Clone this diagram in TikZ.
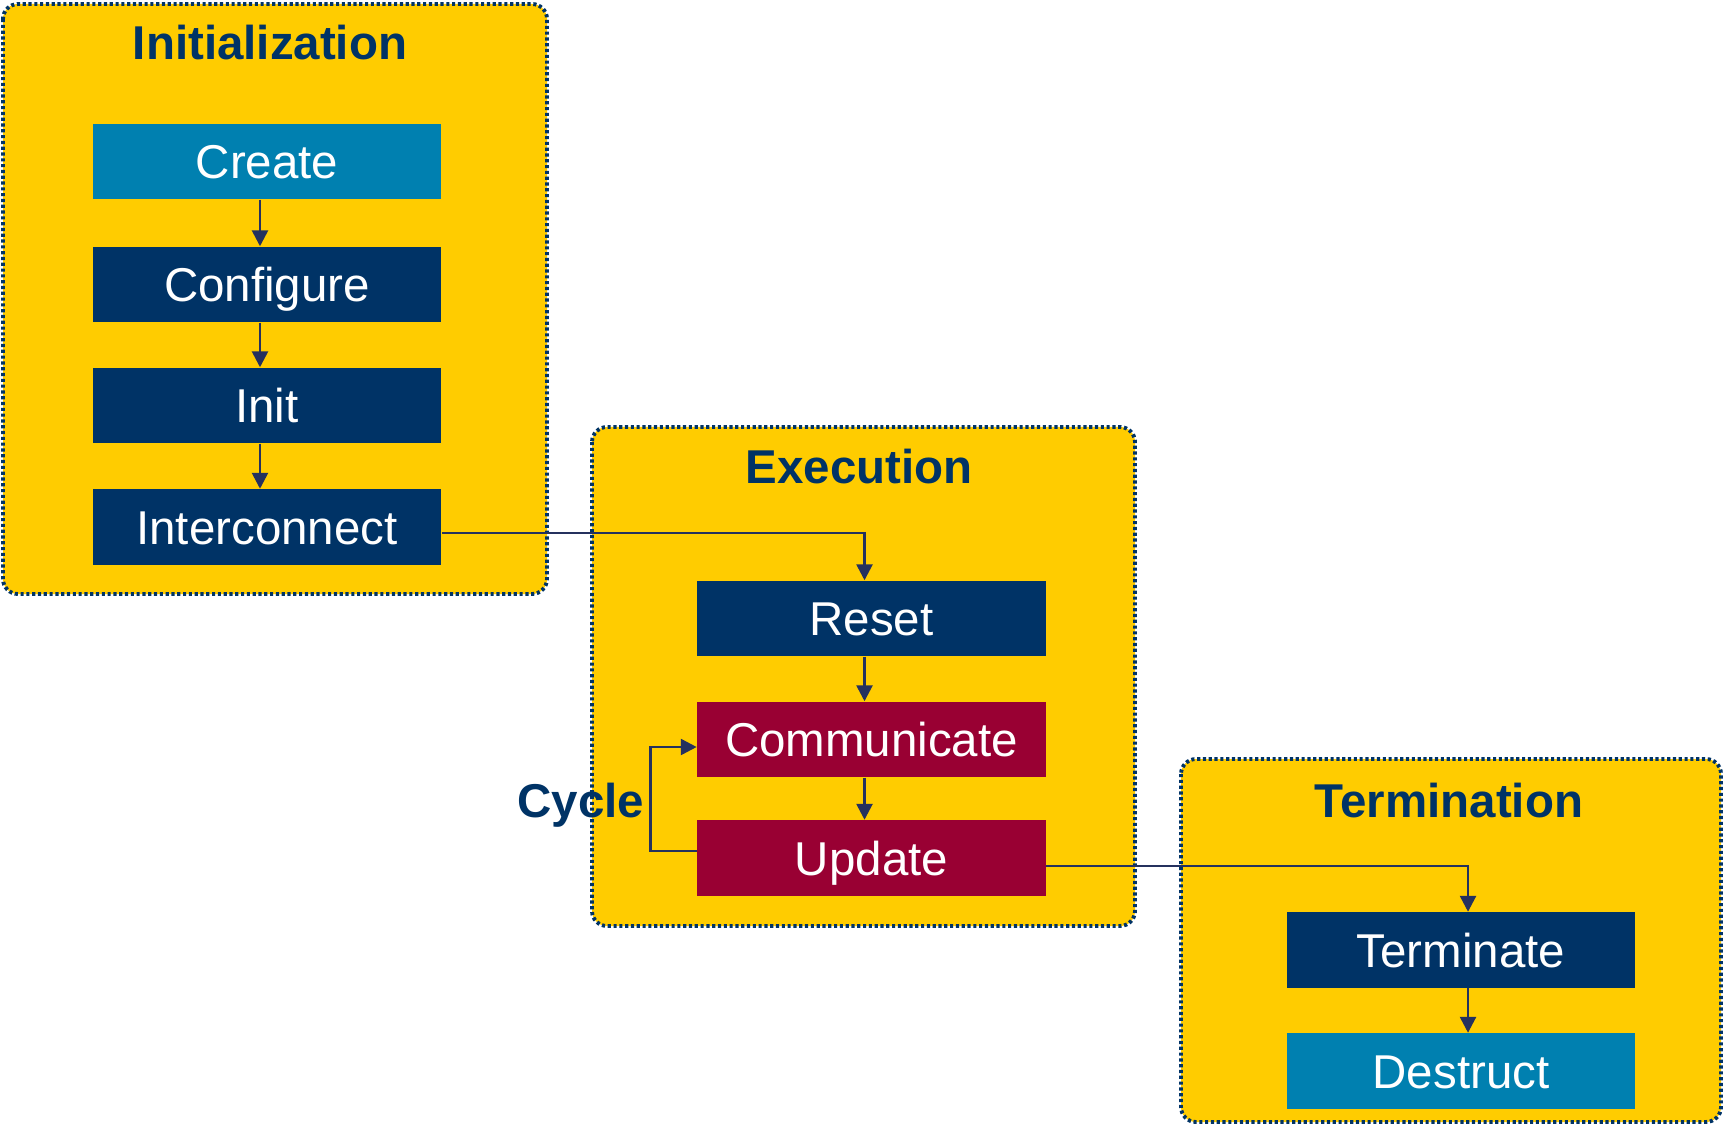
\documentclass[tikz,border=0pt]{standalone}
\usepackage{fontspec}
\setmainfont{Liberation Sans}
\usetikzlibrary{arrows.meta}
\definecolor{phaseyellow}{HTML}{FFCC00}
\definecolor{navy}{HTML}{003366}
\definecolor{teal}{HTML}{0080B0}
\definecolor{crimson}{HTML}{990033}
\definecolor{linenavy}{HTML}{25315E}
\begin{document}
\begin{tikzpicture}[x=0.01cm,y=-0.01cm,>={Triangle[length=4.5pt,width=4.5pt]},font=\fontsize{13.5}{16}\selectfont,
    phase/.style={draw=navy,fill=phaseyellow,rounded corners=0.15cm,line width=1.1pt,dash pattern=on 0.9pt off 0.75pt},
    title/.style={text=navy,text height=0.34cm,text depth=0pt,font=\fontsize{13.5}{16}\selectfont\bfseries},
    stepbox/.style={minimum width=3.48cm,minimum height=0.75cm,inner sep=0pt,text height=0.34cm,text depth=0pt,text=white},
    navybox/.style={stepbox,fill=navy},
    tealbox/.style={stepbox,fill=teal},
    redbox/.style={stepbox,fill=crimson},
    flow/.style={->,draw=linenavy,line width=0.75pt}]
        \def\ax{0.07cm}
        \useasboundingbox (0,0) rectangle (1725,1125);

        \draw[phase] (3,4) rectangle (547,594);
        \draw[phase] (592,427) rectangle (1135,926);
        \draw[phase] (1181,759) rectangle (1721,1122);

        \node[title] (tinit) at (270,42) {Initialization};
        \node[title] (texec) at (859,466) {Execution};
        \node[title] (tterm) at (1449,800) {Termination};

        \node[tealbox] (create) at (267,161.5) {Create};
        \node[navybox] (configure) at (267,284.5) {Configure};
        \node[navybox] (init) at (267,405.5) {Init};
        \node[navybox] (interconnect) at (267,527) {Interconnect};

        \node[navybox] (reset) at (871.5,618.5) {Reset};
        \node[redbox] (communicate) at (871.5,739.5) {Communicate};
        \node[redbox] (update) at (871.5,858) {Update};

        \node[navybox] (terminate) at (1461,950) {Terminate};
        \node[tealbox] (destruct) at (1461,1071) {Destruct};

        \node[title] (cycle) at (581,800) {Cycle};

        \draw[flow] ([xshift=-\ax]create.south) -- ([xshift=-\ax]configure.north);
        \draw[flow] ([xshift=-\ax]configure.south) -- ([xshift=-\ax]init.north);
        \draw[flow] ([xshift=-\ax]init.south) -- ([xshift=-\ax]interconnect.north);
        \draw[flow] ([yshift=-0.06cm]interconnect.east) -| ([xshift=-\ax]reset.north);
        \draw[flow] ([xshift=-\ax]reset.south) -- ([xshift=-\ax]communicate.north);
        \draw[flow] ([xshift=-\ax]communicate.south) -- ([xshift=-\ax]update.north);
        \draw[flow] ([yshift=0.07cm]update.west) -- ++(-46,0) |- ([yshift=-0.075cm]communicate.west);
        \draw[flow] ([yshift=-0.08cm]update.east) -| ([xshift=\ax]terminate.north);
        \draw[flow] ([xshift=\ax]terminate.south) -- ([xshift=\ax]destruct.north);
    \end{tikzpicture}
\end{document}
